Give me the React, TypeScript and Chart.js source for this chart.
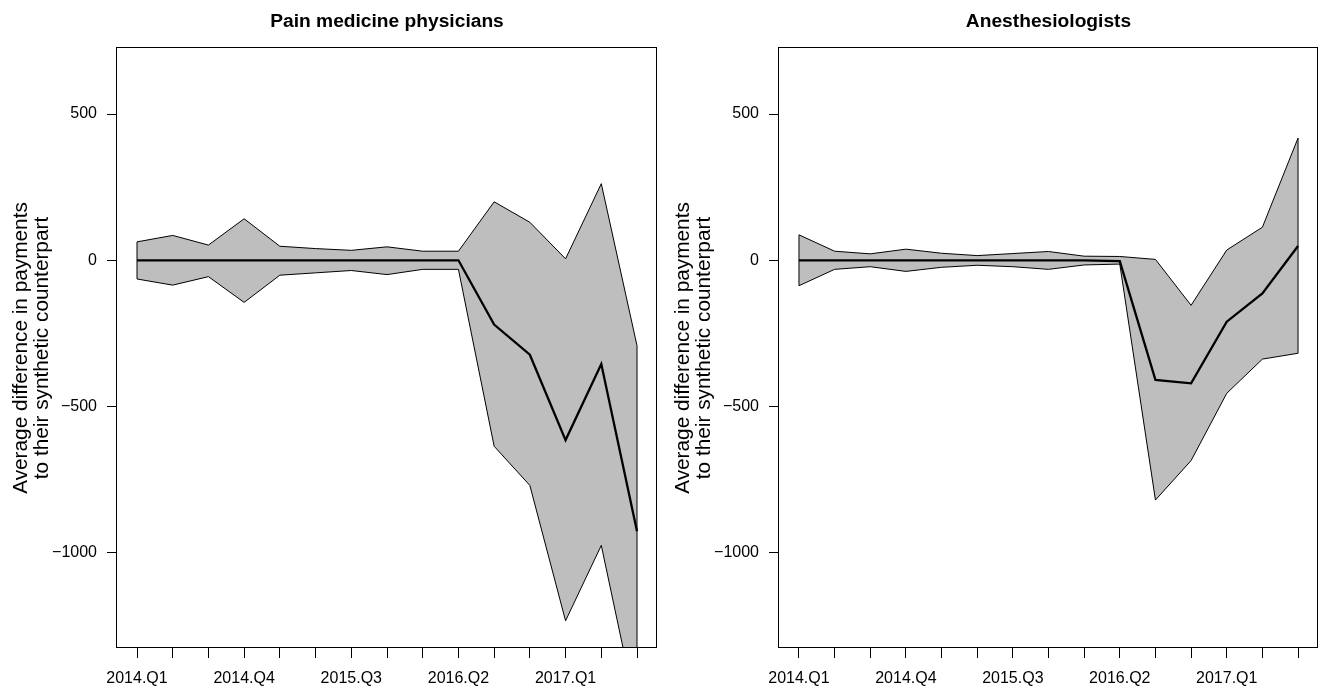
import React, { useEffect, useRef } from 'react';
import { Chart, registerables } from 'chart.js';

Chart.register(...registerables);

const FAMILY = "'Liberation Sans', Arial, Helvetica, sans-serif";

// Categories (quarters) – tick marks at every quarter, label every third
const quarters = [
  '2014.Q1', '2014.Q2', '2014.Q3', '2014.Q4',
  '2015.Q1', '2015.Q2', '2015.Q3', '2015.Q4',
  '2016.Q1', '2016.Q2', '2016.Q3', '2016.Q4',
  '2017.Q1', '2017.Q2', '2017.Q3',
];
const labelEvery = 3;

// Y axis
const yTickValues = [-1000, -500, 0, 500];
const yTickLabels = ['\u22121000', '\u2212500', '0', '500'];
const yMin = -1326;
const yMax = 726;
const xMin = -0.56;
const xMax = 14.56;

const yTitle = ['Average difference in payments', 'to their synthetic counterpart'];

// Pain medicine physicians
const painTitle = 'Pain medicine physicians';
const painGap = [0, 0, 0, 0, 0, 0, 0, 0, 0, 0, -220, -323, -615, -355, -927];
const painUpper = [63, 85, 52, 142, 48, 40, 34, 46, 31, 31, 200, 130, 5, 262, -292];
const painLower = [-64, -85, -56, -144, -51, -43, -35, -49, -31, -31, -636, -770, -1233, -975, -1550];

// Anesthesiologists
const anesTitle = 'Anesthesiologists';
const anesGap = [0, 0, 0, 0, 0, 0, 0, 0, 0, -3, -409, -421, -210, -113, 49];
const anesUpper = [87, 31, 22, 38, 24, 16, 23, 30, 14, 13, 3, -154, 35, 113, 418];
const anesLower = [-87, -31, -22, -38, -24, -17, -22, -31, -16, -13, -820, -685, -455, -338, -318];

const boxPlugin = {
  id: 'rbox',
  afterDatasetsDraw(chart: any) {
    const { ctx, chartArea } = chart;
    const l = Math.round(chartArea.left);
    const t = Math.round(chartArea.top);
    const r = Math.round(chartArea.right);
    const b = Math.round(chartArea.bottom);
    ctx.save();
    ctx.strokeStyle = '#000';
    ctx.lineWidth = 1;
    ctx.strokeRect(l - 0.5, t - 0.5, r - l, b - t);
    ctx.restore();
  },
};

type PanelProps = {
  title: string;
  gap: number[];
  upper: number[];
  lower: number[];
  left: number;
  width: number;
  axisWidth: number;
  padRight: number;
  yTitlePad: number;
};

function Panel(p: PanelProps) {
  const ref = useRef<HTMLCanvasElement | null>(null);
  useEffect(() => {
    if (!ref.current) return;
    const last = p.gap.length - 1;
    const pts = (arr: number[]) => arr.map((v, i) => ({ x: i, y: v }));
    const thin = { borderColor: '#000', borderWidth: 1, pointRadius: 0, tension: 0 };
    const chart = new Chart(ref.current, {
      type: 'line',
      data: {
        datasets: [
          { label: 'gap', data: pts(p.gap), borderColor: '#000', borderWidth: 2.3, pointRadius: 0, fill: false, tension: 0 },
          { label: 'upper', data: pts(p.upper), ...thin, fill: '+1', backgroundColor: '#bebebe' },
          { label: 'lower', data: pts(p.lower), ...thin, fill: false },
          { label: 'start', data: [{ x: 0, y: p.lower[0] }, { x: 0, y: p.upper[0] }], ...thin, fill: false },
          { label: 'end', data: [{ x: last, y: p.lower[last] }, { x: last, y: p.upper[last] }], ...thin, fill: false },
        ],
      } as any,
      options: {
        animation: false,
        responsive: false,
        devicePixelRatio: 1,
        layout: { padding: { left: 0, right: p.padRight, top: 0, bottom: 0 } },
        plugins: {
          legend: { display: false },
          tooltip: { enabled: false },
          filler: { drawTime: 'beforeDatasetsDraw' },
          title: {
            display: true,
            text: p.title,
            fullSize: false,
            color: '#000',
            font: { family: FAMILY, size: 19.2, weight: 'bold', lineHeight: 1.2 },
            padding: { top: 10.2, bottom: 14.76 },
          },
        },
        scales: {
          x: {
            type: 'linear',
            min: xMin,
            max: xMax,
            afterBuildTicks: (s: any) => {
              s.ticks = quarters.map((_, i) => ({ value: i }));
            },
            afterFit: (s: any) => {
              s.height = 41;
            },
            ticks: {
              autoSkip: false,
              maxRotation: 0,
              minRotation: 0,
              padding: 11,
              color: '#000',
              font: { family: FAMILY, size: 16 },
              callback: (v: any) => (v % labelEvery === 0 ? quarters[v] : ''),
            },
            grid: { drawOnChartArea: false, drawTicks: true, tickLength: 10, color: '#000', lineWidth: 1 },
            border: { display: false },
          },
          y: {
            type: 'linear',
            min: yMin,
            max: yMax,
            afterBuildTicks: (s: any) => {
              s.ticks = yTickValues.map((v) => ({ value: v }));
            },
            afterFit: (s: any) => {
              s.width = p.axisWidth;
            },
            ticks: {
              padding: 10,
              color: '#000',
              font: { family: FAMILY, size: 16 },
              callback: (v: any) => {
                const k = yTickValues.indexOf(v);
                return k >= 0 ? yTickLabels[k] : '';
              },
            },
            grid: { drawOnChartArea: false, drawTicks: true, tickLength: 10, color: '#000', lineWidth: 1 },
            border: { display: false },
            title: {
              display: true,
              text: yTitle,
              color: '#000',
              font: { family: FAMILY, size: 20.8, lineHeight: 1.01 },
              padding: { top: p.yTitlePad, bottom: 0 },
            },
          },
        },
      } as any,
      plugins: [boxPlugin],
    });
    return () => chart.destroy();
  }, []);
  return (
    <canvas
      ref={ref}
      width={p.width}
      height={689}
      style={{ position: 'absolute', left: p.left, top: 0, width: p.width, height: 689, display: 'block' }}
    />
  );
}

export default function App() {
  return (
    <div style={{ position: 'fixed', left: 0, top: 0, width: 1319, height: 689, background: '#fff', overflow: 'hidden' }}>
      <Panel title={painTitle} gap={painGap} upper={painUpper} lower={painLower}
        left={0} width={660} axisWidth={117} padRight={3} yTitlePad={10.6} />
      <Panel title={anesTitle} gap={anesGap} upper={anesUpper} lower={anesLower}
        left={660} width={659} axisWidth={119} padRight={1} yTitlePad={12.5} />
    </div>
  );
}
